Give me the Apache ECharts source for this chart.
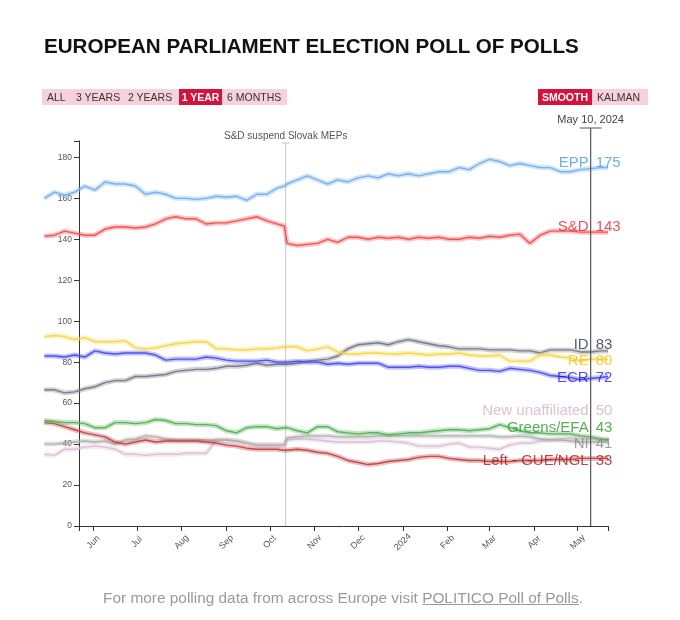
<!DOCTYPE html>
<html>
<head>
<meta charset="utf-8">
<script src="https://cdn.jsdelivr.net/npm/echarts@6/dist/echarts.min.js"></script>
<style>
  html, body { margin: 0; padding: 0; background: #fff; }
  #wrap { position: relative; width: 680px; height: 620px; overflow: hidden; font-family: "Liberation Sans", Arial, sans-serif; }
  #chart { position: absolute; left: 0; top: 0; width: 680px; height: 620px; }
  .title { position: absolute; left: 44px; top: 34px; font-size: 20.6px; font-weight: bold; color: #111; white-space: nowrap; }
  .bar { position: absolute; top: 89px; height: 16px; background: #f8d2da; }
  .btn { position: absolute; top: 89px; height: 16px; line-height: 16px; font-size: 10.5px; color: #333; white-space: nowrap; }
  .sel { background: #d4123b; color: #fff; font-weight: bold; text-align: center; }
  .foot { position: absolute; left: 0; width: 686px; top: 589px; text-align: center; font-size: 15.4px; color: #9a9a9a; white-space: nowrap; }
  .foot u { text-decoration: underline; }
</style>
</head>
<body>
<div id="wrap">
  <div id="chart"></div>
  <div class="title">EUROPEAN PARLIAMENT ELECTION POLL OF POLLS</div>
  <div class="bar" style="left:42px;width:245px;"></div>
  <div class="btn" style="left:47px;">ALL</div>
  <div class="btn" style="left:76px;">3 YEARS</div>
  <div class="btn" style="left:128px;">2 YEARS</div>
  <div class="btn sel" style="left:179px;width:43px;">1 YEAR</div>
  <div class="btn" style="left:227px;">6 MONTHS</div>
  <div class="bar" style="left:538px;width:110px;"></div>
  <div class="btn sel" style="left:538px;width:54px;">SMOOTH</div>
  <div class="btn" style="left:597px;">KALMAN</div>
  <div class="foot">For more polling data from across Europe visit <u>POLITICO Poll of Polls</u>.</div>
</div>
<script>
// ---- data ----
const dates = [
  '2023-04-28','2023-05-05','2023-05-12','2023-05-19','2023-05-26','2023-06-02','2023-06-09','2023-06-16','2023-06-23','2023-06-30',
  '2023-07-07','2023-07-14','2023-07-21','2023-07-28','2023-08-04','2023-08-11','2023-08-18','2023-08-25','2023-09-01','2023-09-08',
  '2023-09-15','2023-09-22','2023-09-29','2023-10-06','2023-10-11','2023-10-13','2023-10-20','2023-10-27','2023-11-03','2023-11-10',
  '2023-11-17','2023-11-24','2023-12-01','2023-12-08','2023-12-15','2023-12-22','2023-12-29','2024-01-05','2024-01-12','2024-01-19',
  '2024-01-26','2024-02-02','2024-02-09','2024-02-16','2024-02-23','2024-03-01','2024-03-08','2024-03-15','2024-03-22','2024-03-29',
  '2024-04-05','2024-04-12','2024-04-19','2024-04-26','2024-05-03','2024-05-10','2024-05-17','2024-05-22'
];
const epp = [160,163,161.5,163,166,164,168,167,167,166,162,163,162,160,160,159.5,160,161,160.5,161,159,162,162,165,166,167,169,171,169,167,169,168,170,171,170,172,171,172,171,172,173,173,175,174,177,179,178,176,177,176,175,175,173,173,174,174.5,175,175];
const sd = [141.5,142,144,143,142,142,145,146,146,145.5,146,147.5,150,151,150,150,147.5,148,148,149,150,151,149,147.5,146.5,138,137,137.5,138,140,138.5,141,141,140,141,140.5,141,140,141,140.5,141,140,140,141,140.5,141.5,141,142,142.5,138,142,144,144,144,143.5,143.5,143.5,143.5];
const idg = [66.5,66.5,65,65.5,67,68,70,71,71,73,73,73.5,74,75.5,76,76.5,76.5,77,78,78,78.5,79.5,78.5,79,79,79,79.5,80.5,81,81.5,83,86.5,88.5,89,89.5,88.5,90,91,90,89,88,87.5,86.5,86.5,86.5,86,86,86,85.5,85.5,84.5,86,86,86,85,85,85.5,85.5];
const re = [92.5,93,92.5,91,92,90,90,90,90.5,87,86.5,87,88,89,89.5,90,90,86.5,86.5,86,86,86.5,86.5,87,87.5,87.5,87.5,85.5,86.5,87.5,85,84,84,84.5,84.5,84,84,84.5,84,83.5,84,84,84.5,83.5,83,83,83.5,80.5,80.5,80.5,83.5,83.5,82.5,82,80.5,81.5,81.5,81.5];
const ecr = [83,83,82.5,83.5,82.5,85.5,84.5,84,84.5,84.5,84.5,83.5,81,81.5,81.5,81.5,82.5,82,81,80.5,80.5,80.5,81,80,80,80,80.5,80,80,79,79.5,79,79.5,79.5,79.5,77.5,77.5,77.5,78,77.5,77.5,78,78,77,76,76,75.5,77,76.5,76,75,73.5,73,72.5,71.5,72,72.5,73];
const greens = [51.5,51,50.5,50.5,50,48,48,50.5,50.5,50,50.5,52,51.5,50,50,49.5,49.5,49,46.5,45.5,48,48.5,48.5,47.5,48,48,46.5,45.5,48.5,48.5,46,45.5,45,45.5,45.5,44.5,45,45.5,45.5,46,46.5,47,47,46.5,47,47.5,49.5,48,46.5,45.5,45.5,45,45,45,44,43.5,42.5,42];
const ni = [40,40,40.5,41,41.5,41,41.5,40,42,42.5,44,43.5,42.5,42,42,42,42,42,42,41.5,40.5,39.5,39.5,39.5,39.5,43,43.5,44,44,44,43.5,43.5,43.5,43.5,44,44,44,44,44,44,44,44,44,44,44,44,43.5,43.5,44,43.5,42.5,42,42,41.5,41,41,41,41];
const newu = [35,34.5,37.5,37.5,38.5,39,38.5,37.5,35,35,34.5,35,35,35,35.5,35.5,35.5,42,42,41.5,40.5,39.5,39.5,39.5,39.5,42,42.5,42.5,42,41.5,41,41,41,41,41.5,41.5,41,40.5,39,39,39,40,40.5,38.5,38.5,38,37.5,39.5,40.5,40.5,41.5,42,42.5,43,42.5,42.5,42,42];
const left = [50.5,50,48.5,47,45.5,44.5,43.5,41,40,41,42,41,41.5,41.5,41.5,41.5,41,40.5,39.5,39,38,37.5,37.5,37.5,37,37,37.5,37,36,35.5,34,32,31,30,30.5,31.5,32,32.5,33.5,34,34,33,32.5,32,32,31.5,31.5,31.5,32,32,32,32.5,32.5,32.5,33,33,33,33];

const partyNames = ['New unaffiliated','NI','Left - GUE/NGL','Greens/EFA','ID','RE','ECR','S&D','EPP'];
const partyValues = [newu, ni, left, greens, idg, re, ecr, sd, epp];
const seats = [50, 41, 33, 43, 83, 80, 72, 143, 175];           // seat numbers shown on May 10, 2024
const labelAt = [56.4, 40.3, 32.0, 48.1, 88.6, 80.8, 72.5, 145.9, 177.5]; // label anchors (value units, dodged)
const lineColors = ['#dcbdd2','#ababab','#c23d3d','#4caf50','#6f7682','#f5d63f','#4646f0','#f04a4a','#6eaef0'];
const labelColors = ['#d6b2c8','#8a8a8a','#a61c1c','#2e9a2e','#2b323e','#f0c419','#1e1ee0','#e8232a','#4a98e8'];

const monthTicks = ['2023-06-01','2023-07-01','2023-08-01','2023-09-01','2023-10-01','2023-11-01','2023-12-01','2024-01-01','2024-02-01','2024-03-01','2024-04-01','2024-05-01'];
const monthLabels = ['Jun','Jul','Aug','Sep','Oct','Nov','Dec','2024','Feb','Mar','Apr','May'];
const yTicks = [0,20,40,60,80,100,120,140,160,180];
const xMin = '2023-05-22', xMax = '2024-05-22', yMax = 188;
const eventDate = '2023-10-12', eventText = 'S&D suspend Slovak MEPs';
const nowDate = '2024-05-10', nowText = 'May 10, 2024';

function ts(s) { const p = s.split('-').map(Number); return Date.UTC(p[0], p[1] - 1, p[2]); }

// layout: visible axes grid, plus a data grid extended to the left with the same scale
const G = { left: 79, right: 72, top: 141, bottom: 94, width: 680 };
const pxPerMs = (G.width - G.left - G.right) / (ts(xMax) - ts(xMin));
const dataLeft = G.left - (ts(xMin) - ts(dates[0])) * pxPerMs;

const monthTs = monthTicks.map(ts);
const series = [];
partyNames.forEach((name, i) => {
  const d = dates.map((t, j) => [ts(t), partyValues[i][j]]);
  series.push({
    type: 'line', name: name + ' band', data: d, showSymbol: false, silent: true, xAxisIndex: 0, yAxisIndex: 0,
    lineStyle: { width: 5, color: lineColors[i], opacity: 0.33 }, animation: false
  });
  series.push({
    type: 'line', name: name, data: d, showSymbol: false, silent: true, xAxisIndex: 0, yAxisIndex: 0,
    lineStyle: { width: 1.4, color: lineColors[i], opacity: 0.9 }, animation: false
  });
});
const labelFont = { fontFamily: 'Liberation Sans, Arial, sans-serif', fontSize: 15 };
series.push({
  type: 'scatter', symbolSize: 0, silent: true, animation: false, z: 10, xAxisIndex: 1, yAxisIndex: 1,
  data: partyNames.map((n, i) => ({
    value: [ts(nowDate), labelAt[i]],
    label: { show: true, position: 'left', distance: 2, formatter: n, color: labelColors[i], ...labelFont }
  }))
});
series.push({
  type: 'scatter', symbolSize: 0, silent: true, animation: false, z: 10, xAxisIndex: 1, yAxisIndex: 1,
  data: partyNames.map((n, i) => ({
    value: [ts(nowDate), labelAt[i]],
    label: { show: true, position: 'right', distance: 5, formatter: String(seats[i]), color: labelColors[i], ...labelFont }
  }))
});

const chart = echarts.init(document.getElementById('chart'));
chart.setOption({
  animation: false,
  grid: [
    { left: dataLeft, right: G.right, top: G.top, bottom: G.bottom },
    { left: G.left, right: G.right, top: G.top, bottom: G.bottom }
  ],
  xAxis: [
    { type: 'value', gridIndex: 0, min: ts(dates[0]), max: ts(xMax), show: false, splitLine: { show: false } },
    {
      type: 'value', gridIndex: 1, min: ts(xMin), max: ts(xMax),
      axisLine: { show: true, lineStyle: { color: '#333', width: 1 } },
      axisTick: { show: true, length: 5, lineStyle: { color: '#333' }, customValues: [ts(xMin)].concat(monthTs, [ts(xMax)]) },
      axisLabel: {
        customValues: monthTs, rotate: 45, align: 'center', verticalAlign: 'middle', margin: 16,
        fontSize: 9, color: '#555', fontFamily: 'Liberation Sans, Arial, sans-serif',
        formatter: (v) => { const k = monthTs.indexOf(v); return k >= 0 ? monthLabels[k] : ''; }
      },
      splitLine: { show: false }
    }
  ],
  yAxis: [
    { type: 'value', gridIndex: 0, min: 0, max: yMax, show: false, splitLine: { show: false } },
    {
      type: 'value', gridIndex: 1, min: 0, max: yMax,
      axisLine: { show: true, lineStyle: { color: '#333', width: 1 } },
      axisTick: { show: true, length: 5, lineStyle: { color: '#333' }, customValues: yTicks.concat([yMax]) },
      axisLabel: { customValues: yTicks, fontSize: 8.5, color: '#555', margin: 7, fontFamily: 'Liberation Sans, Arial, sans-serif' },
      splitLine: { show: false }
    }
  ],
  series: series
});

// annotation lines
const ev = chart.convertToPixel({ gridIndex: 1 }, [ts(eventDate), 0]);
const now = chart.convertToPixel({ gridIndex: 1 }, [ts(nowDate), 0]);
const topY = chart.convertToPixel({ gridIndex: 1 }, [ts(nowDate), yMax])[1];
chart.setOption({
  graphic: [
    { type: 'line', z: 1, shape: { x1: ev[0], y1: topY + 2, x2: ev[0], y2: ev[1] }, style: { stroke: '#c8c8c8', lineWidth: 1 }, silent: true },
    { type: 'line', z: 1, shape: { x1: ev[0] - 4, y1: topY + 2, x2: ev[0] + 4, y2: topY + 2 }, style: { stroke: '#c8c8c8', lineWidth: 1 }, silent: true },
    { type: 'text', z: 1, x: ev[0], y: topY - 5, style: { text: eventText, fill: '#555', font: '10px Liberation Sans, Arial, sans-serif', align: 'center', verticalAlign: 'middle' }, silent: true },
    { type: 'line', z: 5, shape: { x1: now[0], y1: topY - 13, x2: now[0], y2: now[1] }, style: { stroke: '#555', lineWidth: 1.2 }, silent: true },
    { type: 'line', z: 5, shape: { x1: now[0] - 11, y1: topY - 13, x2: now[0] + 11, y2: topY - 13 }, style: { stroke: '#555', lineWidth: 1 }, silent: true },
    { type: 'text', z: 5, x: now[0], y: topY - 21, style: { text: nowText, fill: '#444', font: '11px Liberation Sans, Arial, sans-serif', align: 'center', verticalAlign: 'middle' }, silent: true }
  ]
});
</script>
</body>
</html>
